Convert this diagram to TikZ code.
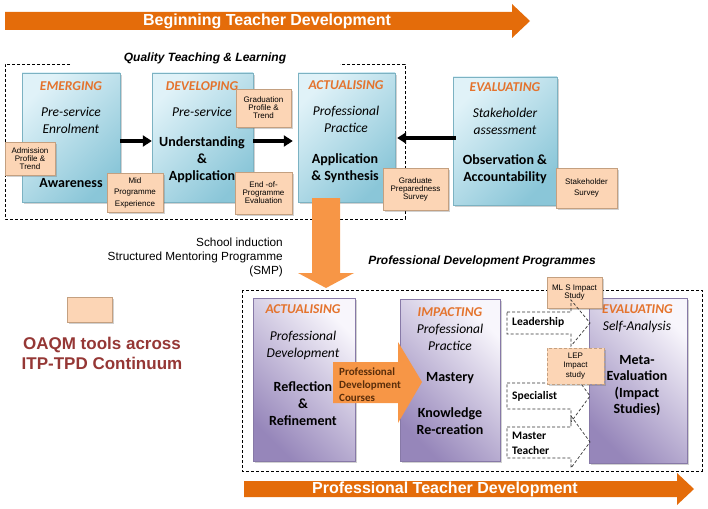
\documentclass[tikz,border=0pt]{standalone}
\usepackage{fontspec}
\setmainfont{Carlito}
\newfontfamily\arial{Liberation Sans}
\usepackage{tikz}
\usetikzlibrary{arrows.meta,shadows}

\definecolor{bannerorange}{RGB}{228,108,10}
\definecolor{lightorange}{RGB}{247,150,70}
\definecolor{titleorange}{RGB}{228,115,45}
\definecolor{peach}{RGB}{252,213,181}
\definecolor{peachline}{RGB}{196,160,128}
\definecolor{bluelight}{RGB}{224,242,248}
\definecolor{bluedark}{RGB}{138,198,216}
\definecolor{purlight}{RGB}{248,246,252}
\definecolor{purdark}{RGB}{150,134,186}
\definecolor{oaqmred}{RGB}{149,55,53}
\definecolor{coursebrown}{RGB}{90,45,10}

\tikzset{
  softshadow/.style={drop shadow={shadow xshift=2pt,shadow yshift=-2pt,opacity=.3,fill=black!60}},
  blubox/.style={rectangle, inner sep=0pt, top color=bluelight, bottom color=bluedark, shading angle=45, draw=bluedark!90!black, line width=.4pt, softshadow},
  purbox/.style={rectangle, inner sep=0pt, top color=purlight, bottom color=purdark, shading angle=-45, draw=purdark!90!black, line width=.4pt, softshadow},
  toolbox/.style={rectangle, inner sep=0pt, fill=peach, draw=peachline, line width=.5pt, align=center, font=\arial\fontsize{8}{8}\selectfont, softshadow},
  stagetitle/.style={inner sep=0pt, text=titleorange, font=\fontsize{13.5}{16}\selectfont\bfseries\itshape},
  stageital/.style={inner sep=0pt, align=center, font=\fontsize{13.5}{17}\selectfont\itshape},
  stagebold/.style={inner sep=0pt, align=center, font=\fontsize{14}{17}\selectfont\bfseries},
  banner/.style={inner sep=0pt, text=white, font=\arial\fontsize{16}{18}\selectfont\bfseries},
  boxhead/.style={inner sep=0pt, font=\arial\fontsize{12}{14}\selectfont\bfseries\itshape},
  dashbox/.style={draw=black, line width=.7pt, dash pattern=on 3pt off 2pt},
  dasharrow/.style={draw=black!80, line width=.7pt, dash pattern=on 3pt off 2pt},
  armtext/.style={inner sep=0pt, align=left, font=\fontsize{11.5}{15}\selectfont\bfseries},
  bigarrow/.style={line width=4pt, -{Triangle[length=9pt,width=11pt]}}
}

\begin{document}
\begin{tikzpicture}[x=1pt,y=-1pt]
\useasboundingbox (0,0) rectangle (708,508);

% beginning teacher banner
\fill[bannerorange] (5,12) -- (512,12) -- (512,4) -- (530,21) -- (512,38) -- (512,30) -- (5,30) -- cycle;
\node[banner] (btd) at (267,21) {Beginning Teacher Development};

% quality teaching frame
\draw[dashbox] (70,64) -- (5,64) -- (5,219) -- (405,219) -- (405,64) -- (340,64);
\node[boxhead] (qtl) at (205,58) {Quality Teaching \& Learning};

\node[blubox, minimum width=98pt, minimum height=129pt] (emg) at (71,137.5) {};
\node[blubox, minimum width=101pt, minimum height=129pt] (dev) at (202.5,137.5) {};
\node[blubox, minimum width=97pt, minimum height=129pt] (act) at (346.5,137.5) {};
\node[blubox, minimum width=104pt, minimum height=128pt] (eva) at (505,141) {};

\node[stagetitle] (emgt) at (71,86) {EMERGING};
\node[stageital] (emgi) at (71,120.5) {Pre-service\\Enrolment};
\node[stagebold] (emgb) at (71,183) {Awareness};

\node[stagetitle] (devt) at (202,86) {DEVELOPING};
\node[stageital] (devi) at (202,112) {Pre-service};
\node[stagebold] (devb) at (202,160) {Understanding\\\&\\Application};

\node[stagetitle] (actt) at (346,85) {ACTUALISING};
\node[stageital] (acti) at (346,119.5) {Professional\\Practice};
\node[stagebold] (actb) at (345,168.5) {Application\\\& Synthesis};

\node[stagetitle] (evat) at (505,87) {EVALUATING};
\node[stageital] (evai) at (505,121) {Stakeholder\\assessment};
\node[stagebold] (evab) at (505,169.5) {Observation \&\\Accountability};

\draw[bigarrow] (emg.east |- 0,141) -- (dev.west |- 0,141);
\draw[bigarrow] (dev.east |- 0,141) -- ([xshift=-5pt]act.west |- 0,141);
\draw[bigarrow] ([xshift=3pt]eva.west |- 0,138) -- ([xshift=2pt]act.east |- 0,138);

% induction arrow
\fill[lightorange] (312,198) -- (340,198) -- (340,273) -- (354,273) -- (326,288) -- (298,273) -- (312,273) -- cycle;
\node[inner sep=0pt, anchor=east, align=right, font=\arial\fontsize{11.8}{14}\selectfont] (smp) at (283,257) {School induction\\Structured Mentoring Programme\\(SMP)};

% oaqm tools
\node[toolbox, minimum width=50pt, minimum height=33pt] (adm) at (30,158.5) {Admission\\Profile \&\\Trend};
\node[toolbox, minimum width=56pt, minimum height=39pt, font=\arial\fontsize{8}{11.5}\selectfont] (mid) at (135,192.5) {Mid\\Programme\\Experience};
\node[toolbox, minimum width=55pt, minimum height=38pt] (grad) at (263.5,108) {Graduation\\Profile \&\\Trend};
\node[toolbox, minimum width=57pt, minimum height=42pt] (endp) at (263.5,193) {End -of-\\Programme\\Evaluation};
\node[toolbox, minimum width=65pt, minimum height=42pt] (gps) at (415.5,189) {Graduate\\Preparedness\\Survey};
\node[toolbox, minimum width=61pt, minimum height=40pt, font=\arial\fontsize{8}{11}\selectfont] (sks) at (586.5,188) {Stakeholder\\Survey};

\node[toolbox, minimum width=45pt, minimum height=25pt] (leg) at (89.5,309.5) {};
\node[inner sep=0pt, align=center, text=oaqmred, font=\arial\fontsize{17}{20}\selectfont\bfseries] (oaqm) at (102,353) {OAQM tools across\\ITP-TPD Continuum};

% professional development frame
\draw[dashbox] (242,290) rectangle (702,471);
\node[boxhead] (pdp) at (482,261) {Professional Development Programmes};

\node[purbox, minimum width=102pt, minimum height=163pt] (pact) at (304,379.5) {};
\node[purbox, minimum width=100pt, minimum height=162pt] (pimp) at (450,380) {};
\node[purbox, minimum width=98pt, minimum height=165pt] (peva) at (638,380.5) {};

\node[stagetitle] (pactt) at (303,309) {ACTUALISING};
\node[stageital] (pacti) at (303,345) {Professional\\Development};
\node[stagebold] (pactb) at (303,404) {Reflection\\\&\\Refinement};

\node[stagetitle] (pimpt) at (450,312) {IMPACTING};
\node[stageital] (pimpi) at (450,337.5) {Professional\\Practice};
\node[stagebold] (pimpb) at (450,378) {Mastery};
\node[stagebold] (pimpc) at (450,421) {Knowledge\\Re-creation};

\node[stagetitle] (pevat) at (637.5,309) {EVALUATING};
\node[stageital] (pevai) at (637,327) {Self-Analysis};
\node[stagebold, font=\fontsize{14}{16.3}\selectfont\bfseries] (pevab) at (637,385.5) {Meta-\\Evaluation\\(Impact\\Studies)};

% courses arrow
\fill[lightorange] (333,362) -- (398,362) -- (398,342) -- (422,382) -- (398,423) -- (398,403) -- (333,403) -- cycle;
\node[inner sep=0pt, anchor=west, align=left, text=coursebrown, font=\fontsize{11}{13}\selectfont\bfseries] (pdc) at (339,385) {Professional\\Development\\Courses};

% programme arrows
\node[toolbox, minimum width=55pt, minimum height=31pt] (mls) at (574.5,292.5) {ML S Impact\\Study};
\draw[dasharrow] (507,312) -- (571,312) -- (571,300) -- (590,323) -- (571,346) -- (571,334) -- (507,334) -- cycle;
\draw[dasharrow] (507,383) -- (571,383) -- (571,370) -- (590,396) -- (571,422) -- (571,409) -- (507,409) -- cycle;
\draw[dasharrow] (507,427) -- (571,427) -- (571,416) -- (590,442) -- (571,468) -- (571,458) -- (507,458) -- cycle;
\node[armtext, anchor=west] (ldr) at (512,322) {Leadership};
\node[armtext, anchor=west] (spc) at (512,396) {Specialist};
\node[armtext, anchor=west] (mst) at (512,443.5) {Master\\Teacher};
\node[toolbox, minimum width=57pt, minimum height=36pt, dash pattern=on 3pt off 2pt, font=\arial\fontsize{8}{9.5}\selectfont] (lep) at (575.5,366) {LEP\\Impact\\study};

% professional teacher banner
\fill[bannerorange] (244,481) -- (677,481) -- (677,473) -- (694,489) -- (677,505) -- (677,497) -- (244,497) -- cycle;
\node[banner] (ptd) at (445,489) {Professional Teacher Development};
\end{tikzpicture}
\end{document}
